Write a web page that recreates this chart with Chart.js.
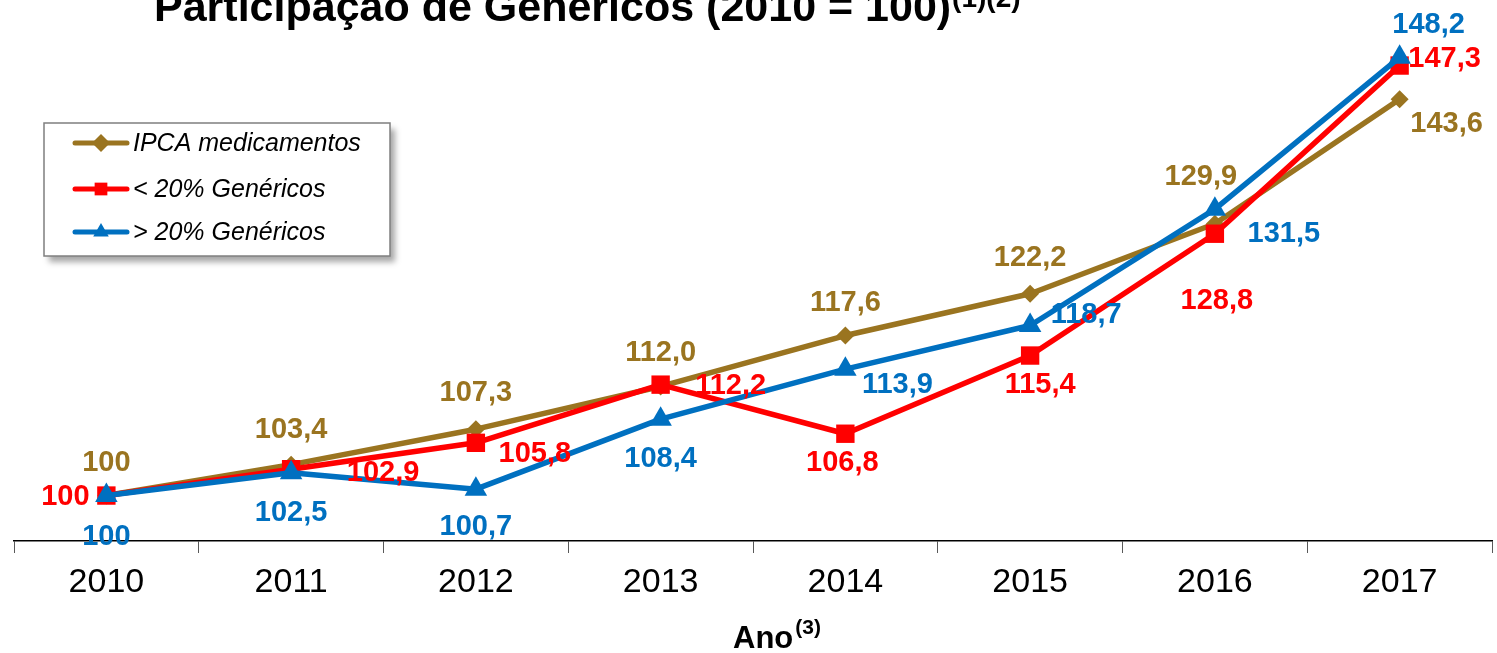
<!DOCTYPE html>
<html>
<head>
<meta charset="utf-8">
<script src="https://cdn.jsdelivr.net/npm/chart.js@4.4.0/dist/chart.umd.min.js"></script>
<style>
  html, body { margin: 0; padding: 0; background: #fff; }
  #wrap { width: 1497px; height: 653px; position: relative; }
</style>
</head>
<body>
<div id="wrap"><canvas id="genChart"></canvas></div>
<script>
// data (2010 = 100)
const years = ["2010", "2011", "2012", "2013", "2014", "2015", "2016", "2017"];
const ipcaMed = [100, 103.4, 107.3, 112.0, 117.6, 122.2, 129.9, 143.6];
const genLow = [100, 102.9, 105.8, 112.2, 106.8, 115.4, 128.8, 147.3];
const genHigh = [100, 102.5, 100.7, 108.4, 113.9, 118.7, 131.5, 148.2];
const seriesNames = ["IPCA medicamentos", "< 20% Genéricos", "> 20% Genéricos"];

const FONT = "'Liberation Sans', Arial, sans-serif";
const BROWN = "#9A7420", RED = "#FF0000", BLUE = "#0070C0";

// where each value label sits relative to its point (dx, dy in px)
const labelOffsets = [
  [[0, -34], [0, -36], [0, -37], [0, -34], [0, -34], [0, -37], [-14, -48], [47, 24]],
  [[-41, 0], [92, 3], [59, 10], [70, 0], [-3, 28], [10, 28], [2, 66], [45, -8]],
  [[0, 40], [0, 39], [0, 37], [0, 39], [52, 15], [56, -12], [69, 24], [29, -33]]
];

function fmt(v) {
  return v === 100 ? "100" : v.toFixed(1).replace(".", ",");
}

// value labels on every point
const valueLabels = {
  id: "valueLabels",
  afterDatasetsDraw(chart) {
    const { ctx } = chart;
    ctx.save();
    ctx.font = "bold 29px " + FONT;
    ctx.textAlign = "center";
    ctx.textBaseline = "middle";
    chart.data.datasets.forEach((ds, i) => {
      const meta = chart.getDatasetMeta(i);
      meta.data.forEach((pt, j) => {
        const [dx, dy] = labelOffsets[i][j];
        ctx.fillStyle = ds.borderColor;
        ctx.fillText(fmt(ds.data[j]), pt.x + dx, pt.y + dy + 1);
      });
    });
    ctx.restore();
  }
};

// boxed legend with shadow, inside the plot
const boxLegend = {
  id: "boxLegend",
  afterDraw(chart) {
    const { ctx } = chart;
    const bx = 44, by = 123, bw = 346, bh = 133;
    ctx.save();
    ctx.shadowColor = "rgba(0,0,0,0.35)";
    ctx.shadowBlur = 6;
    ctx.shadowOffsetX = 5;
    ctx.shadowOffsetY = 6;
    ctx.fillStyle = "#fff";
    ctx.fillRect(bx, by, bw, bh);
    ctx.restore();

    ctx.save();
    ctx.strokeStyle = "#7F7F7F";
    ctx.lineWidth = 1.5;
    ctx.strokeRect(bx, by, bw, bh);
    const rows = [143, 189, 232];
    chart.data.datasets.forEach((ds, i) => {
      const y = rows[i];
      ctx.strokeStyle = ds.borderColor;
      ctx.lineWidth = 5;
      ctx.lineCap = "round";
      ctx.beginPath();
      ctx.moveTo(75, y);
      ctx.lineTo(127, y);
      ctx.stroke();
      ctx.fillStyle = ds.borderColor;
      Chart.helpers.drawPoint(ctx, {
        pointStyle: ds.pointStyle, radius: ds.legendRadius, rotation: 0, borderWidth: 0
      }, 101, y);
      ctx.fillStyle = "#000";
      ctx.font = "italic 25px " + FONT;
      ctx.textAlign = "left";
      ctx.textBaseline = "middle";
      ctx.fillText(seriesNames[i], 133, y + 1);
    });
    ctx.restore();
  }
};

// title (clipped at the top like the source) and axis title, both with superscripts
const titles = {
  id: "titles",
  afterDraw(chart) {
    const { ctx } = chart;
    ctx.save();
    ctx.fillStyle = "#000";
    ctx.textAlign = "left";
    ctx.textBaseline = "alphabetic";
    ctx.font = "bold 43px " + FONT;
    const main = "Participação de Genéricos (2010 = 100)";
    ctx.fillText(main, 154, 21);
    const w = ctx.measureText(main).width;
    ctx.font = "bold 28px " + FONT;
    ctx.fillText("(1)(2)", 154 + w + 1, 7);

    ctx.font = "bold 31px " + FONT;
    ctx.fillText("Ano", 733, 648);
    const w2 = ctx.measureText("Ano").width;
    ctx.font = "bold 21px " + FONT;
    ctx.fillText("(3)", 733 + w2 + 2, 634);
    ctx.restore();
  }
};

function series(label, data, color, style, radius, order) {
  return {
    label, data,
    borderColor: color,
    backgroundColor: color,
    borderWidth: 5.5,
    borderJoinStyle: "round",
    pointStyle: style,
    pointRadius: radius,
    pointHoverRadius: radius,
    pointBorderWidth: 0,
    pointBackgroundColor: color,
    legendRadius: 9,
    tension: 0,
    clip: false,
    order
  };
}

new Chart(document.getElementById("genChart"), {
  type: "line",
  data: {
    labels: years,
    datasets: [
      series(seriesNames[0], ipcaMed, BROWN, "rectRot", 9, 3),
      series(seriesNames[1], genLow, RED, "rect", 13, 2),
      series(seriesNames[2], genHigh, BLUE, "triangle", 13, 1)
    ]
  },
  options: {
    responsive: true,
    maintainAspectRatio: false,
    animation: false,
    layout: { autoPadding: false, padding: { left: 14, right: 5, top: 41, bottom: 0 } },
    plugins: {
      legend: { display: false },
      title: { display: false },
      tooltip: { enabled: false }
    },
    scales: {
      x: {
        offset: true,
        grid: { offset: true, drawOnChartArea: false, tickLength: 12, color: "#595959", lineWidth: 1 },
        border: { display: true, color: "#000", width: 1.5 },
        ticks: { color: "#000", font: { family: FONT, size: 34 }, padding: 9, maxRotation: 0, autoSkip: false },
        afterFit(scale) {
          scale.height = 112;
          scale.paddingLeft = 0;
          scale.paddingRight = 0;
        }
      },
      y: { display: false, min: 95, max: 150 }
    }
  },
  plugins: [valueLabels, boxLegend, titles]
});
</script>
</body>
</html>
